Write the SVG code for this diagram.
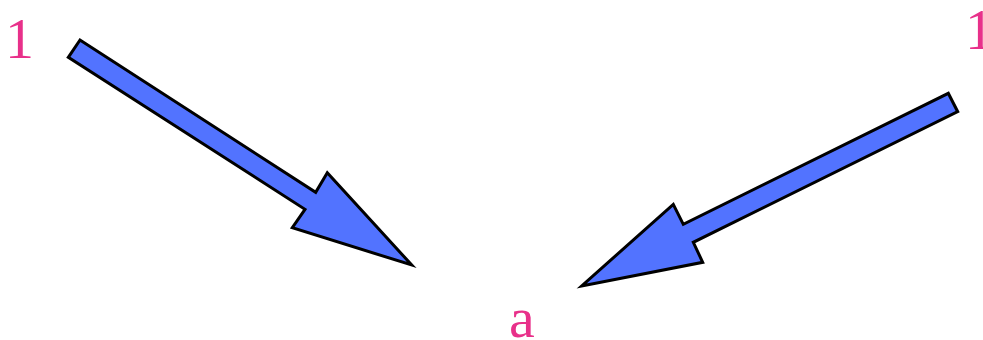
<svg xmlns="http://www.w3.org/2000/svg" width="983" height="340" viewBox="0 0 983 340">
<style>
.lbl{font-family:'Liberation Serif','Times New Roman','DejaVu Serif',serif;font-size:58px;fill:#E8308A}
.arr{fill:#5273FF;stroke:#000;stroke-width:3;stroke-linejoin:miter}
</style>
<rect width="983" height="340" fill="#fff"/>
<g id="connectors">
<polygon class="arr" points="80,40 68.3,57.3 305,209.3 292.3,227.7 411.7,265 327.3,172.7 315.7,192.3"/>
<polygon class="arr" points="948.3,93.3 957.7,111.7 693.3,242.3 702.7,262.3 581.7,286 673.3,204.3 683.3,224.3"/>
</g>
<g id="node-1-left"><text class="lbl" x="5" y="57.5">1</text></g>
<g id="node-1-right"><text class="lbl" x="965" y="49">1</text></g>
<g id="node-a"><text class="lbl" x="509" y="337">a</text></g>
</svg>
